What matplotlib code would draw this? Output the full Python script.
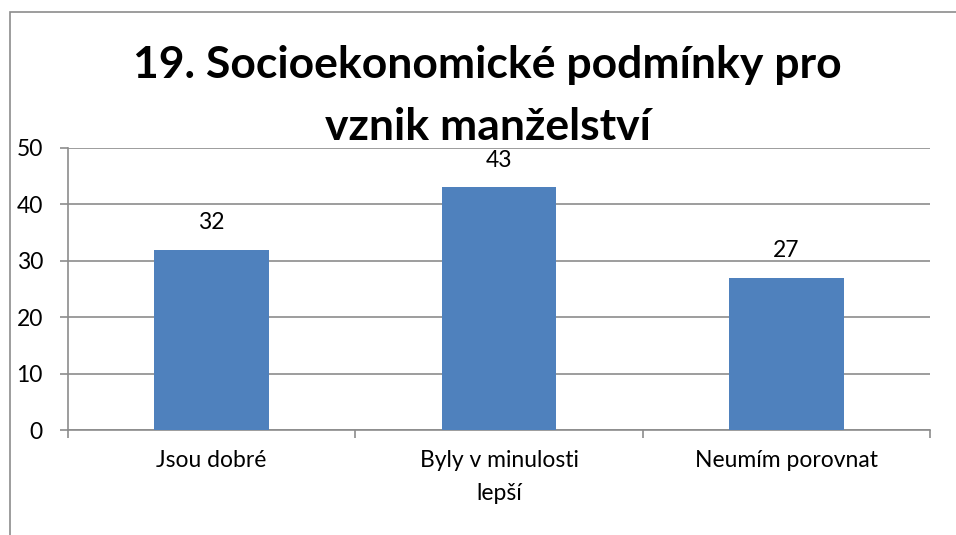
import matplotlib.pyplot as plt
from matplotlib.patches import Rectangle

plt.rcParams['font.family'] = ['Lato', 'DejaVu Sans']

categories = ['Jsou dobré', 'Byly v minulosti\nlepší', 'Neumím porovnat']
values = [32, 43, 27]
yticks = [0, 10, 20, 30, 40, 50]
title_lines = ['19. Socioekonomické podmínky pro', 'vznik manželství']

fig = plt.figure(figsize=(9.56, 5.35), dpi=100)
# outer chart frame
fig.patches.append(Rectangle((10 / 956, -0.05), 1.1, 1 - 12 / 535 + 0.05,
                             transform=fig.transFigure, fill=False,
                             edgecolor='#8c8c8c', linewidth=1.2))

ax = fig.add_axes([0.0711, 0.196, 0.9017, 0.5274])
x = range(len(categories))
bars = ax.bar(x, values, width=0.4, color='#4f81bd', zorder=3)
for b, v in zip(bars, values):
    ax.annotate(str(v), (b.get_x() + b.get_width() / 2, v),
                xytext=(0, 12), textcoords='offset points',
                ha='center', va='bottom', fontsize=16.5)

ax.set_xlim(-0.5, 2.5)
ax.set_ylim(0, 50)
ax.set_yticks(yticks)
ax.set_xticks(list(x))
ax.set_xticklabels(categories, fontsize=16.5, linespacing=1.75,
                   multialignment='center')
ax.tick_params(axis='x', length=0, pad=14)
ax.tick_params(axis='y', labelsize=16.5, length=6, color='#8c8c8c', width=1.2,
               pad=12)
# category boundary ticks
ax.set_xticks([-0.5, 0.5, 1.5, 2.5], minor=True)
ax.tick_params(axis='x', which='minor', length=6, color='#8c8c8c', width=1.2)
ax.grid(axis='y', color='#8c8c8c', linewidth=1.2, zorder=0)
for s in ['top', 'right']:
    ax.spines[s].set_visible(False)
for s in ['left', 'bottom']:
    ax.spines[s].set_color('#8c8c8c')
    ax.spines[s].set_linewidth(1.2)

fig.text(0.51, 1 - 78 / 535, title_lines[0], ha='center', va='baseline',
         fontsize=32, fontweight='bold')
fig.text(0.51, 1 - 140 / 535, title_lines[1], ha='center', va='baseline',
         fontsize=32, fontweight='bold')

fig.savefig('out.png', dpi=100)
